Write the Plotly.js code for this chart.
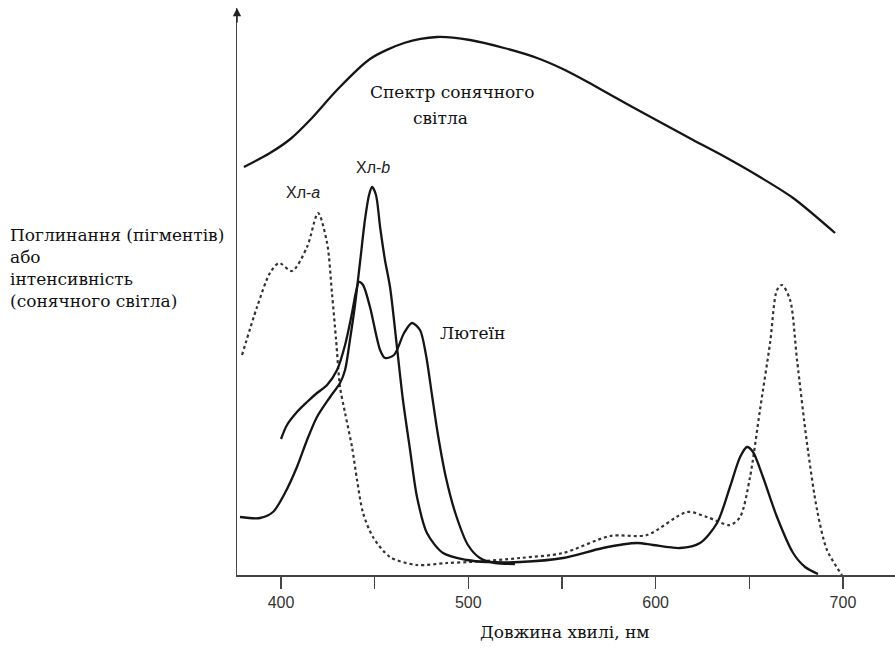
<!DOCTYPE html>
<html>
<head>
<meta charset="utf-8">
<script src="https://cdn.plot.ly/plotly-3.0.1.min.js"></script>
<style>html,body{margin:0;padding:0;background:#fff;}#chart{width:895px;height:651px;}</style>
</head>
<body>
<div id="chart"></div>
<script>
// Wavelength (nm) and relative intensity / absorbance (arbitrary units)
const sunX = [380.2, 394.1, 405.0, 416.0, 429.9, 447.5, 465.7, 483.3, 500.9, 519.1, 536.7, 551.6, 566.6, 584.7, 602.3, 620.0, 638.1, 655.7, 673.4, 695.8];
const sunY = [408, 422, 436, 456, 485, 516, 532, 538, 535, 527, 517, 505, 490, 471, 453, 435, 417, 398, 377, 342];

const chlaX = [379.2, 387.2, 394.1, 398.9, 405.9, 413.9, 419.8, 424.6, 427.2, 429.4, 431.5, 434.2, 437.9, 440.6, 443.8, 449.1, 458.2, 472.6, 488.6, 500.9, 527.6, 550.6, 575.7, 595.4, 616.8, 627.4, 639.7, 645.1, 650.4, 655.7, 661.1, 664.8, 667.5, 671.8, 675.5, 680.8, 686.2, 691.5, 699.5];
const chlaY = [220, 268, 302, 312, 304, 328, 362, 332, 282, 235, 188, 162, 128, 95, 62, 38, 18, 10, 12, 13, 17, 22, 39, 40, 63, 58, 50, 58, 98, 165, 232, 285, 290, 275, 215, 132, 65, 25, 0];

const chlbX = [378.1, 388.8, 395.7, 402.1, 408.5, 413.9, 419.2, 426.2, 431.5, 434.2, 436.8, 439.5, 442.2, 444.8, 447.0, 448.6, 450.7, 452.9, 455.5, 458.2, 461.9, 465.1, 468.9, 472.6, 477.9, 486.5, 499.3, 510.0, 527.6, 550.6, 571.9, 590.1, 598.6, 613.0, 623.7, 632.8, 639.7, 645.1, 648.8, 652.0, 657.3, 664.8, 673.4, 679.8, 686.7];
const chlbY = [58, 57, 63, 82, 108, 135, 158, 178, 192, 205, 235, 270, 313, 355, 380, 388, 380, 348, 315, 288, 228, 175, 125, 78, 42, 22, 15, 13, 13, 17, 27, 32, 30, 27, 32, 52, 88, 118, 128, 123, 98, 58, 22, 8, 1];

const luteinX = [400.0, 403.2, 408.5, 413.9, 419.2, 424.6, 429.9, 434.2, 437.9, 440.0, 441.6, 443.8, 447.5, 452.9, 455.5, 460.3, 465.7, 469.9, 474.2, 477.4, 480.6, 483.8, 488.1, 493.4, 499.8, 506.2, 514.3, 524.9];
const luteinY = [136, 150, 163, 173, 182, 190, 205, 230, 262, 283, 293, 290, 268, 225, 217, 220, 242, 252, 245, 220, 180, 140, 97, 60, 30, 17, 12, 11];

const tickVals = [400, 450, 500, 550, 600, 650, 700];
const tickText = ['400', '', '500', '', '600', '', '700'];

const lbl = {
  sun1: 'Спектр сонячного',
  sun2: 'світла',
  chla: 'Хл-<i>a</i>',
  chlb: 'Хл-<i>b</i>',
  lutein: 'Лютеїн',
  ytitle: 'Поглинання (пігментів)<br>або<br>інтенсивність<br>(сонячного світла)',
  xtitle: 'Довжина хвилі, нм'
};

const serif = 'DejaVu Serif, serif';
const sans = 'Liberation Sans, Arial, sans-serif';
const ink = '#151515';

const traces = [
  {x: sunX, y: sunY, mode: 'lines', line: {color: ink, width: 2.3, shape: 'spline', smoothing: 0.8}, hoverinfo: 'skip'},
  {x: chlaX, y: chlaY, mode: 'lines', line: {color: '#333', width: 2.2, dash: 'dot', shape: 'spline', smoothing: 0.8}, hoverinfo: 'skip'},
  {x: chlbX, y: chlbY, mode: 'lines', line: {color: ink, width: 2.3, shape: 'spline', smoothing: 0.8}, hoverinfo: 'skip'},
  {x: luteinX, y: luteinY, mode: 'lines', line: {color: ink, width: 2.3, shape: 'spline', smoothing: 0.8}, hoverinfo: 'skip'}
];

const layout = {
  width: 895, height: 651,
  margin: {l: 237, r: 0, t: 8, b: 76},
  paper_bgcolor: '#fff', plot_bgcolor: '#fff',
  showlegend: false,
  xaxis: {
    range: [376.5, 727.8], showgrid: false, zeroline: false,
    showline: true, linecolor: '#444', linewidth: 1.5,
    ticks: 'outside', ticklen: 12, tickwidth: 1.5, tickcolor: '#444',
    tickvals: tickVals, ticktext: tickText,
    tickfont: {family: sans, size: 16, color: '#333'}
  },
  yaxis: {
    range: [0, 567], showgrid: false, zeroline: false,
    showline: true, linecolor: '#444', linewidth: 1.5,
    showticklabels: false, ticks: ''
  },
  annotations: [
    {x: 0, y: 1, xref: 'paper', yref: 'paper', text: '', showarrow: true, ax: 0, ay: 16, arrowhead: 2, arrowsize: 1.1, arrowwidth: 1.5, arrowcolor: '#222'},
    {x: 491.3, y: 483, text: lbl.sun1, showarrow: false, font: {family: serif, size: 17, color: '#111'}},
    {x: 485.4, y: 457, text: lbl.sun2, showarrow: false, font: {family: serif, size: 17, color: '#111'}},
    {x: 411.7, y: 383, text: lbl.chla, showarrow: false, font: {family: sans, size: 16, color: '#222'}},
    {x: 449.1, y: 408, text: lbl.chlb, showarrow: false, font: {family: sans, size: 16, color: '#222'}},
    {x: 502, y: 242, text: lbl.lutein, showarrow: false, font: {family: serif, size: 17, color: '#111'}},
    {x: -0.348, xref: 'paper', y: 307, yref: 'y', xanchor: 'left', yanchor: 'middle', align: 'left', text: lbl.ytitle, showarrow: false, font: {family: serif, size: 17, color: '#111'}},
    {x: 551.6, y: -0.1, yref: 'paper', yanchor: 'middle', text: lbl.xtitle, showarrow: false, font: {family: serif, size: 17, color: '#111'}}
  ]
};

Plotly.newPlot('chart', traces, layout, {staticPlot: true, displayModeBar: false});
</script>
</body>
</html>
